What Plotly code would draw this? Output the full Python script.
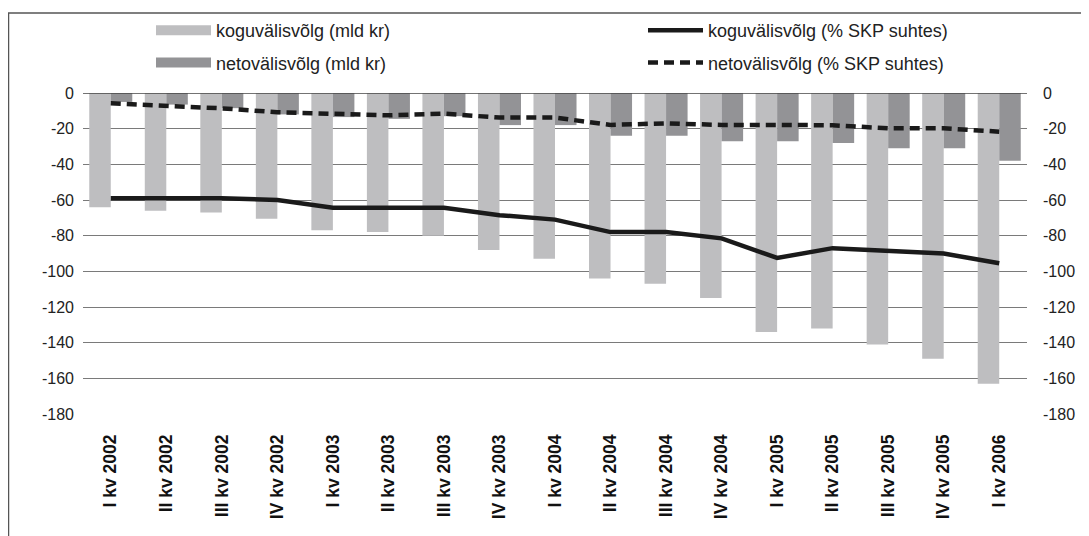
import plotly.graph_objects as go

categories = ["I kv 2002", "II kv 2002", "III kv 2002", "IV kv 2002",
              "I kv 2003", "II kv 2003", "III kv 2003", "IV kv 2003",
              "I kv 2004", "II kv 2004", "III kv 2004", "IV kv 2004",
              "I kv 2005", "II kv 2005", "III kv 2005", "IV kv 2005",
              "I kv 2006"]

gross_bn = [-64, -66, -67, -70.5, -77, -78, -80, -88, -93, -104, -107, -115,
            -134, -132, -141, -149, -163]
net_bn = [-5, -6.5, -8.5, -12, -13.5, -14.5, -13, -18, -18, -24, -24, -27,
          -27, -28, -31, -31, -38]
gross_pct = [-59, -59, -59, -60, -64.3, -64.3, -64.3, -68.5, -71, -78, -78,
             -81.5, -92.5, -87, -88.7, -90, -95.5]
net_pct = [-5.8, -7.1, -8.6, -10.8, -11.6, -12.5, -11.6, -13.8, -13.8, -17.9,
           -17.0, -17.9, -17.9, -18.1, -19.8, -19.8, -21.7]

y_ticks = [0, -20, -40, -60, -80, -100, -120, -140, -160, -180]
y_tick_labels = ["0", "-20", "-40", "-60", "-80", "-100", "-120", "-140", "-160", "-180"]

names = ["koguvälisvõlg (mld kr)", "netovälisvõlg (mld kr)",
         "koguvälisvõlg (% SKP suhtes)", "netovälisvõlg (% SKP suhtes)"]

FONT = "Liberation Sans, Arial, sans-serif"
LIGHT = "#bebec0"
DARK = "#939396"
LINE = "#1a1a1a"

fig = go.Figure()
# bars (legend entries shown as wide swatches below)
fig.add_trace(go.Bar(x=categories, y=gross_bn, name=names[0],
                     marker=dict(color=LIGHT, line=dict(width=0)),
                     showlegend=False, legendgroup="a"))
fig.add_trace(go.Bar(x=categories, y=net_bn, name=names[1],
                     marker=dict(color=DARK, line=dict(width=0)),
                     showlegend=False, legendgroup="b"))
# legend swatches for the bar series
fig.add_trace(go.Scatter(x=[None], y=[None], name=names[0], mode="lines",
                         line=dict(color=LIGHT, width=15), legend="legend",
                         legendgroup="a", hoverinfo="skip"))
fig.add_trace(go.Scatter(x=[None], y=[None], name=names[1], mode="lines",
                         line=dict(color=DARK, width=15), legend="legend",
                         legendgroup="b", hoverinfo="skip"))
fig.add_trace(go.Scatter(x=categories, y=gross_pct, name=names[2],
                         mode="lines", line=dict(color=LINE, width=4.5),
                         yaxis="y2", legend="legend2", legendgroup="c"))
fig.add_trace(go.Scatter(x=categories, y=net_pct, name=names[3],
                         mode="lines", line=dict(color=LINE, width=4.5, dash="10px,6px"),
                         yaxis="y2", legend="legend2", legendgroup="d"))

# page body has an 8px margin, so the figure is sized to fit the window
W, H = 1081, 528
ml, mr, mt, mb = 75, 62, 85, 122
pw, ph = W - ml - mr, H - mt - mb

def px_to_paper_x(px):
    return (px - ml) / pw

def px_to_paper_y(py):
    return (H - mb - py) / ph

legend_common = dict(
    orientation="v", bgcolor="rgba(0,0,0,0)",
    font=dict(family=FONT, size=18, color="#222"),
    tracegroupgap=6, itemwidth=55,
    xref="container", yref="container",
    xanchor="left", yanchor="middle",
    y=1 - 38.5 / H,
)

fig.update_layout(
    width=W, height=H,
    margin=dict(l=ml, r=mr, t=mt, b=mb, autoexpand=False),
    paper_bgcolor="white", plot_bgcolor="white",
    barmode="group", bargap=0.225, bargroupgap=0,
    font=dict(family=FONT, size=16, color="#222"),
    legend=dict(x=143 / W, **legend_common),
    legend2=dict(x=635 / W, **legend_common),
    xaxis=dict(type="category", tickangle=-90, showgrid=False, ticks="",
               tickfont=dict(family=FONT, size=17.5, color="#111", weight="bold"),
               showline=False, ticklabelstandoff=16),
    yaxis=dict(range=[-180, 0], tickvals=y_ticks, ticktext=y_tick_labels,
               showgrid=True, gridcolor="#7a7a7a", gridwidth=1, zeroline=False,
               ticks="", tickfont=dict(size=16, color="#222"),
               ticklabelstandoff=8, showline=False),
    yaxis2=dict(range=[-180, 0], tickvals=y_ticks, ticktext=y_tick_labels,
                overlaying="y", side="right",
                showgrid=False, zeroline=False, ticks="",
                tickfont=dict(size=16, color="#222"), ticklabelstandoff=15,
                showline=False),
    shapes=[
        dict(type="line", xref="paper", yref="y", x0=0, x1=1, y0=0, y1=0,
             line=dict(color="#444", width=1.5), layer="above"),
        dict(type="rect", xref="paper", yref="paper",
             x0=px_to_paper_x(0.5), x1=px_to_paper_x(1100),
             y0=px_to_paper_y(560), y1=px_to_paper_y(5),
             line=dict(color="#555", width=1.5), fillcolor="rgba(0,0,0,0)",
             layer="below"),
    ],
)

fig.write_html("out.html")
